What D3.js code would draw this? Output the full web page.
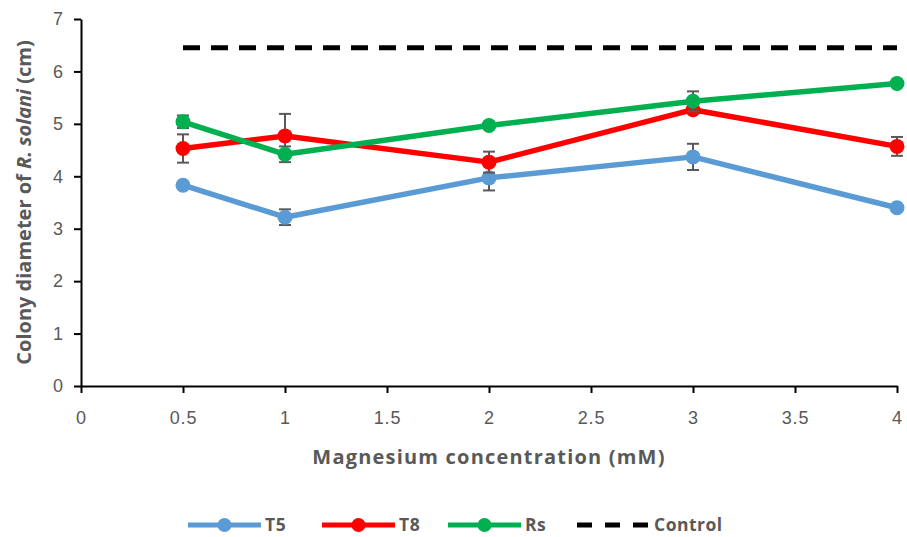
<!DOCTYPE html>
<html>
<head>
<meta charset="utf-8">
<script src="https://cdn.jsdelivr.net/npm/d3@7"></script>
<style>
  html, body { margin: 0; padding: 0; background: #fff; }
  svg { display: block; font-family: "Open Sans", "Liberation Sans", sans-serif; }
</style>
</head>
<body>
<svg id="chart" width="907" height="537"></svg>
<script>
// Magnesium concentrations (mM)
const concentrations = [0.5, 1, 2, 3, 4];

// Mean colony diameter (cm) per isolate
const t5Values = [3.83, 3.22, 3.97, 4.37, 3.40];
const t8Values = [4.53, 4.77, 4.27, 5.27, 4.57];
const rsValues = [5.04, 4.42, 4.97, 5.43, 5.77];

// Standard errors
const t5Errors = [0.04, 0.15, 0.24, 0.25, 0.04];
const t8Errors = [0.27, 0.42, 0.20, 0.06, 0.18];
const rsErrors = [0.12, 0.15, 0.05, 0.19, 0.04];

// Untreated control
const controlValue = 6.45;

const xTicks = [0, 0.5, 1, 1.5, 2, 2.5, 3, 3.5, 4];
const yTicks = [0, 1, 2, 3, 4, 5, 6, 7];

const seriesNames = ["T5", "T8", "Rs"];
const seriesColors = ["#5B9BD5", "#FF0000", "#00B050"];

const series = [
  { name: seriesNames[0], color: seriesColors[0], values: t5Values, errors: t5Errors },
  { name: seriesNames[1], color: seriesColors[1], values: t8Values, errors: t8Errors },
  { name: seriesNames[2], color: seriesColors[2], values: rsValues, errors: rsErrors }
];

const svg = d3.select("#chart");
const plotLeft = 81, plotRight = 897, plotTop = 19, plotBottom = 386;

const x = d3.scaleLinear().domain([0, 4]).range([plotLeft, plotRight]);
const y = d3.scaleLinear().domain([0, 7]).range([plotBottom, plotTop]);

const textGrey = "#595959";

// Y axis
const yAxis = svg.append("g")
  .attr("transform", `translate(${plotLeft},0)`)
  .call(d3.axisLeft(y).tickValues(yTicks).tickFormat(d3.format("d")).tickSizeOuter(0).tickSizeInner(7).tickPadding(11));
yAxis.select(".domain").attr("stroke", "#000").attr("stroke-width", 2);
yAxis.selectAll(".tick line").attr("stroke", "#000").attr("stroke-width", 2);
yAxis.selectAll(".tick text").attr("fill", textGrey).style("font-size", "18px");

// X axis
const xAxis = svg.append("g")
  .attr("transform", `translate(0,${plotBottom})`)
  .call(d3.axisBottom(x).tickValues(xTicks).tickFormat(d => String(d)).tickSizeOuter(0).tickSizeInner(7).tickPadding(18));
xAxis.select(".domain").attr("stroke", "#000").attr("stroke-width", 2);
xAxis.selectAll(".tick line").attr("stroke", "#000").attr("stroke-width", 2);
xAxis.selectAll(".tick text").attr("fill", textGrey).style("font-size", "18px").style("letter-spacing", "0.8px");

// Axis titles
svg.append("text")
  .attr("x", (plotLeft + plotRight) / 2)
  .attr("y", 464)
  .attr("text-anchor", "middle")
  .attr("fill", textGrey)
  .style("font-size", "20px")
  .style("font-weight", "bold")
  .style("letter-spacing", "1.2px")
  .text("Magnesium concentration (mM)");

const yTitle = svg.append("text")
  .attr("transform", `translate(31,${(plotTop + plotBottom) / 2}) rotate(-90)`)
  .attr("text-anchor", "middle")
  .attr("fill", textGrey)
  .style("font-size", "20px")
  .style("font-weight", "bold");
yTitle.append("tspan").text("Colony diameter of ");
yTitle.append("tspan").style("font-style", "italic").text("R. solani");
yTitle.append("tspan").text(" (cm)");

const line = d3.line().x(d => x(d[0])).y(d => y(d[1]));

// Series: line, error bars, markers
series.forEach(s => {
  const pts = concentrations.map((c, i) => [c, s.values[i], s.errors[i]]);
  const g = svg.append("g");
  g.append("path")
    .datum(pts)
    .attr("d", line)
    .attr("fill", "none")
    .attr("stroke", s.color)
    .attr("stroke-width", 5.5)
    .attr("stroke-linejoin", "round");
  const eb = g.selectAll(".eb").data(pts).enter().append("g");
  eb.append("line")
    .attr("x1", d => x(d[0])).attr("x2", d => x(d[0]))
    .attr("y1", d => y(d[1] + d[2])).attr("y2", d => y(d[1] - d[2]))
    .attr("stroke", textGrey).attr("stroke-width", 2);
  [1, -1].forEach(sign => {
    eb.append("line")
      .attr("x1", d => x(d[0]) - 6).attr("x2", d => x(d[0]) + 6)
      .attr("y1", d => y(d[1] + sign * d[2])).attr("y2", d => y(d[1] + sign * d[2]))
      .attr("stroke", textGrey).attr("stroke-width", 2);
  });
  g.selectAll("circle").data(pts).enter().append("circle")
    .attr("cx", d => x(d[0])).attr("cy", d => y(d[1]))
    .attr("r", 7.5)
    .attr("fill", s.color);
});

// Control line
svg.append("line")
  .attr("x1", x(concentrations[0])).attr("x2", x(concentrations[concentrations.length - 1]))
  .attr("y1", y(controlValue)).attr("y2", y(controlValue))
  .attr("stroke", "#000").attr("stroke-width", 5)
  .attr("stroke-dasharray", "17 11");

// Legend
const legend = svg.append("g").attr("transform", "translate(0,525)");
const legendItems = [
  { name: seriesNames[0], color: seriesColors[0], x: 188, dashed: false },
  { name: seriesNames[1], color: seriesColors[1], x: 322, dashed: false },
  { name: seriesNames[2], color: seriesColors[2], x: 448, dashed: false },
  { name: "Control", color: "#000", x: 577, dashed: true }
];
legendItems.forEach(it => {
  const w = 73;
  legend.append("line")
    .attr("x1", it.x).attr("x2", it.x + w)
    .attr("y1", 0).attr("y2", 0)
    .attr("stroke", it.color).attr("stroke-width", 5)
    .attr("stroke-dasharray", it.dashed ? "15 13" : null);
  if (!it.dashed) {
    legend.append("circle").attr("cx", it.x + w / 2).attr("cy", 0).attr("r", 7).attr("fill", it.color);
  }
  legend.append("text")
    .attr("x", it.x + w + 4).attr("y", 6)
    .attr("fill", textGrey)
    .style("font-size", "17.5px")
    .style("font-weight", "bold")
    .style("letter-spacing", "0.5px")
    .text(it.name);
});
</script>
</body>
</html>
